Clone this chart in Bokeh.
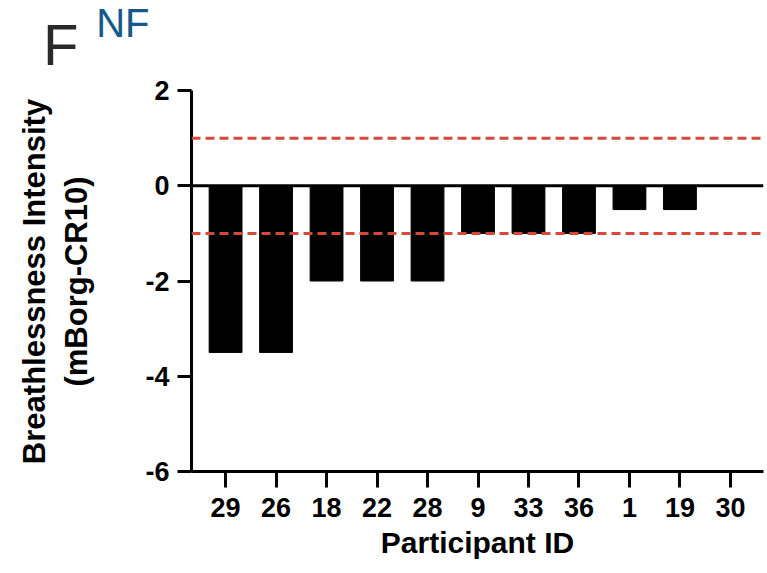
from bokeh.plotting import figure
from bokeh.models import Range1d, FixedTicker, Span, LinearAxis
from bokeh.embed import file_html
from bokeh.resources import INLINE

participants = ["29", "26", "18", "22", "28", "9", "33", "36", "1", "19", "30"]
change = [-3.5, -3.5, -2, -2, -2, -1, -1, -1, -0.5, -0.5, 0]
y_ticks = [-6, -4, -2, 0, 2]
mcid_lines = [1, -1]

x = list(range(len(participants)))
FONT = "Liberation Sans"

# layout constants (pixels)
FRAME_BOTTOM_PX = 471
Y_TOP_PX = 90            # pixel row of y = 2
PX_PER_UNIT = (FRAME_BOTTOM_PX - Y_TOP_PX) / (y_ticks[-1] - y_ticks[0])
y_end = y_ticks[-1] + Y_TOP_PX / PX_PER_UNIT   # frame reaches the top of the canvas


def px_to_y(px):
    return round(y_ticks[-1] + (Y_TOP_PX - px) / PX_PER_UNIT, 6)


p = figure(width=767, height=573, output_backend="svg", toolbar_location=None,
           x_range=Range1d(-0.675, 10.655), y_range=Range1d(y_ticks[0], y_end),
           min_border_left=191, min_border_right=4, min_border_top=0,
           min_border_bottom=573 - FRAME_BOTTOM_PX)
p.outline_line_color = None
p.grid.visible = False

p.vbar(x=x, top=0, bottom=change, width=0.65, fill_color="black", line_color="black")

p.add_layout(Span(location=0, dimension="width", line_color="black", line_width=3))
for v in mcid_lines:
    p.add_layout(Span(location=v, dimension="width", line_color="#d34a3c",
                      line_width=3, line_dash="9 5"))

for ax in (p.xaxis[0], p.yaxis[0]):
    ax.axis_line_width = 3
    ax.axis_line_color = "black"
    ax.major_tick_line_width = 3
    ax.major_tick_line_color = "black"
    ax.major_tick_in = 0
    ax.minor_tick_line_color = None
    ax.major_label_text_font = FONT
    ax.major_label_text_font_style = "bold"
    ax.major_label_text_font_size = "27px"
    ax.major_label_text_color = "black"
    ax.axis_label_text_font = FONT
    ax.axis_label_text_font_style = "bold"
    ax.axis_label_text_color = "black"

p.yaxis.ticker = FixedTicker(ticks=y_ticks)
p.yaxis.major_label_overrides = {v: str(v) for v in y_ticks}
p.yaxis.bounds = (y_ticks[0], y_ticks[-1])
p.yaxis.major_tick_out = 14
p.yaxis.major_label_standoff = 8

p.xaxis.ticker = FixedTicker(ticks=x)
p.xaxis.major_label_overrides = {i: s for i, s in enumerate(participants)}
p.xaxis.major_tick_out = 16
p.xaxis.major_label_standoff = 10
p.xaxis.axis_label = "Participant ID"
p.xaxis.axis_label_text_font_size = "30px"
p.xaxis.axis_label_standoff = 6


def text_axis(tick_px, text, standoff, font, size, color, style="normal",
              orientation="horizontal"):
    ty = px_to_y(tick_px)
    ax = LinearAxis(ticker=FixedTicker(ticks=[ty]), major_label_overrides={ty: text})
    ax.axis_line_color = None
    ax.major_tick_line_color = None
    ax.minor_tick_line_color = None
    ax.major_tick_out = 0
    ax.major_tick_in = 0
    ax.major_label_standoff = standoff
    ax.major_label_text_font = font
    ax.major_label_text_font_size = size
    ax.major_label_text_font_style = style
    ax.major_label_text_color = color
    ax.major_label_orientation = orientation
    return ax


# left side panels, stacked outward from the frame
p.add_layout(text_axis(22.5, "NF", -7, FONT, "40px", "#14598a"), "left")
p.add_layout(text_axis(44, "F", 15, FONT, "58px", "#2a2a2a"), "left")
p.add_layout(text_axis(281, "Breathlessness Intensity\n(mBorg-CR10)", -53, FONT, "31px",
                       "black", style="bold", orientation="vertical"), "left")

open("out.html", "w").write(file_html(p, INLINE))
